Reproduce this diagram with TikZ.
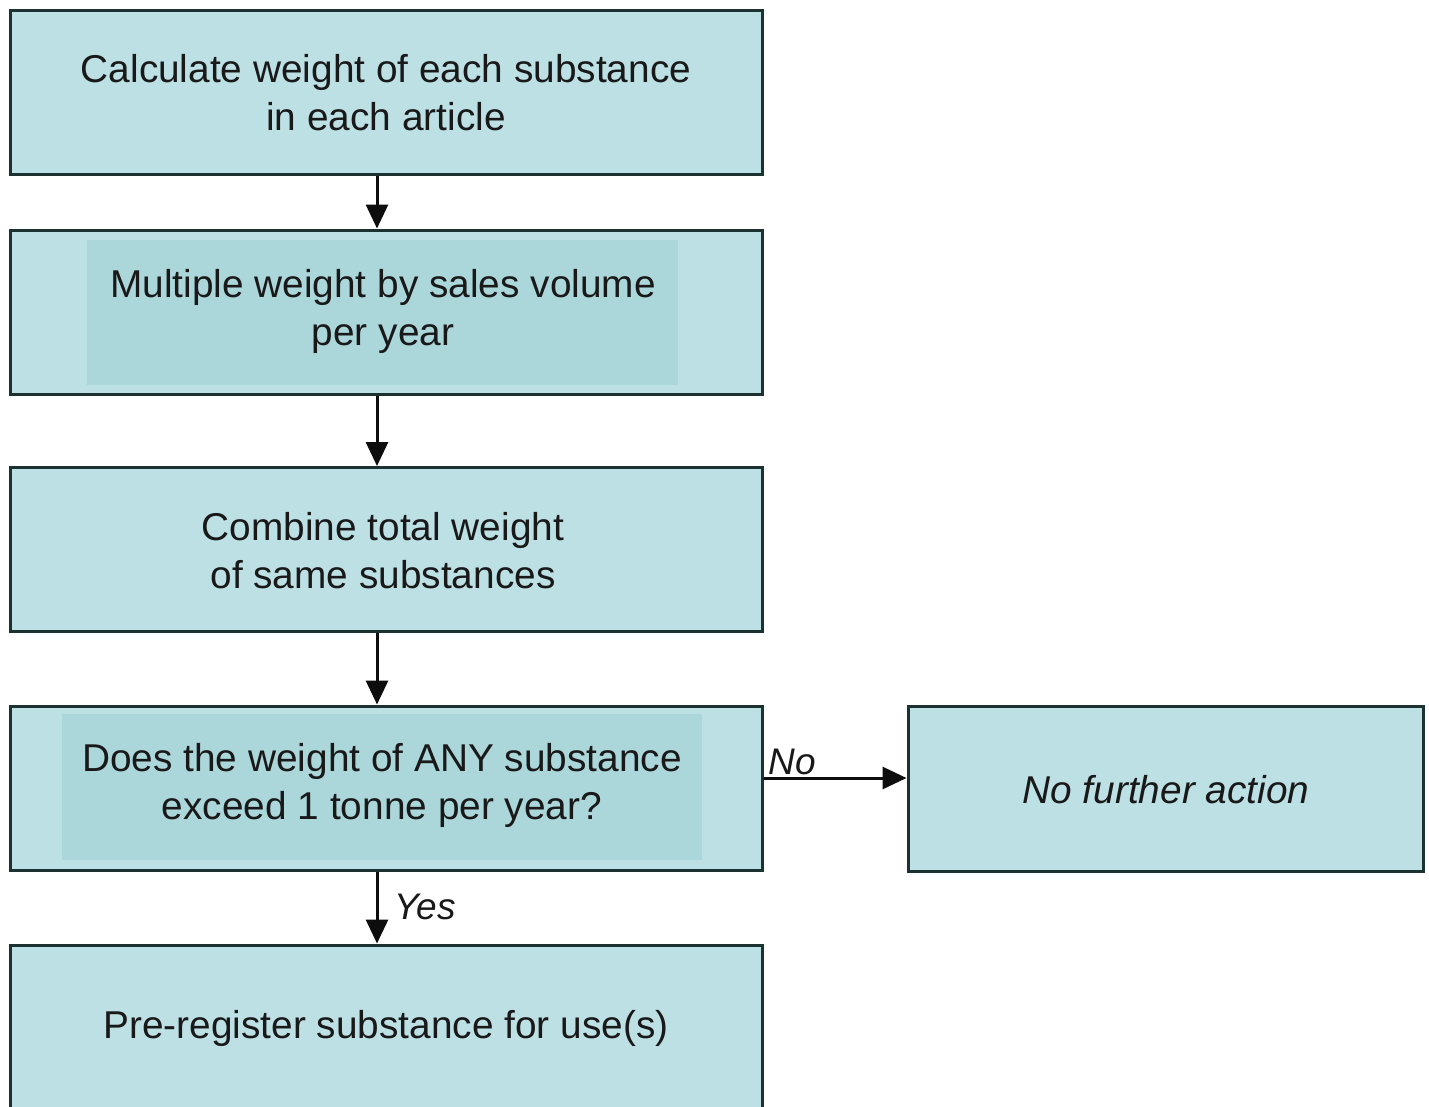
\documentclass[tikz,border=0pt]{standalone}
\usepackage{fontspec}
\setmainfont{Liberation Sans}
\usetikzlibrary{arrows.meta}
\definecolor{boxfill}{HTML}{BCE0E4}
\definecolor{innerfill}{HTML}{ABD6DA}
\definecolor{edge}{HTML}{1C3230}
\begin{document}
\begin{tikzpicture}[x=1pt,y=-1pt,
  stepbox/.style={draw=edge, fill=boxfill, line width=3pt, minimum width=752pt, minimum height=164pt, inner sep=0pt},
  panel/.style={fill=innerfill, inner sep=0pt},
  txt/.style={align=center, font=\fontsize{38.8}{48}\selectfont, text=black!90},
  lbl/.style={font=\fontsize{37}{44}\selectfont\itshape, text=black!90, inner sep=0pt},
  flow/.style={line width=3pt, draw=black!95, -{Triangle[length=24pt,width=22pt]}}]
\clip (0,0) rectangle (1429,1106);
\fill[white] (0,0) rectangle (1429,1106);

% step boxes
\node[stepbox] (b1) at (386,92) {};
\node[stepbox] (b2) at (386,312) {};
\node[panel, minimum width=591pt, minimum height=145pt] (p2) at (382.5,312.5) {};
\node[stepbox] (b3) at (386,549.5) {};
\node[stepbox] (b4) at (386,788) {};
\node[panel, minimum width=640pt, minimum height=146pt] (p4) at (382,787) {};
\node[stepbox, minimum height=200pt] (b5) at (386,1045) {};
\node[stepbox, minimum width=515pt, minimum height=165pt] (nf) at (1165.5,788.5) {};

% texts
\node[txt] (t1) at (386,93) {Calculate weight of each substance\\in each article};
\node[txt] (t2) at (383,311) {Multiple weight by sales volume\\per year};
\node[txt] (t3) at (383,551) {Combine total weight\\of same substances};
\node[txt] (t4) at (382,785) {Does the weight of ANY substance\\exceed 1 tonne per year?};
\node[txt] (t5) at (386,1028) {Pre-register substance for use(s)};
\node[txt, font=\fontsize{38.8}{48}\selectfont\itshape] (t6) at (1166,790) {No further action};

% connectors
\draw[flow] ([xshift=-9pt]b1.south) -- ([xshift=-9pt]b2.north);
\draw[flow] ([xshift=-9pt]b2.south) -- ([xshift=-9pt]b3.north);
\draw[flow] ([xshift=-9pt]b3.south) -- ([xshift=-9pt]b4.north);
\draw[flow] ([xshift=-9pt]b4.south) -- ([xshift=-9pt]b5.north);
\draw[flow] ([yshift=10pt]b4.east) -- ([yshift=10pt]b4.east -| nf.west);

% branch labels
\node[lbl, anchor=south west] (no) at ([xshift=5pt,yshift=13pt]b4.east) {No};
\node[lbl, anchor=west] (yes) at ([xshift=8pt,yshift=37pt]b5.north) {Yes};
\end{tikzpicture}
\end{document}
